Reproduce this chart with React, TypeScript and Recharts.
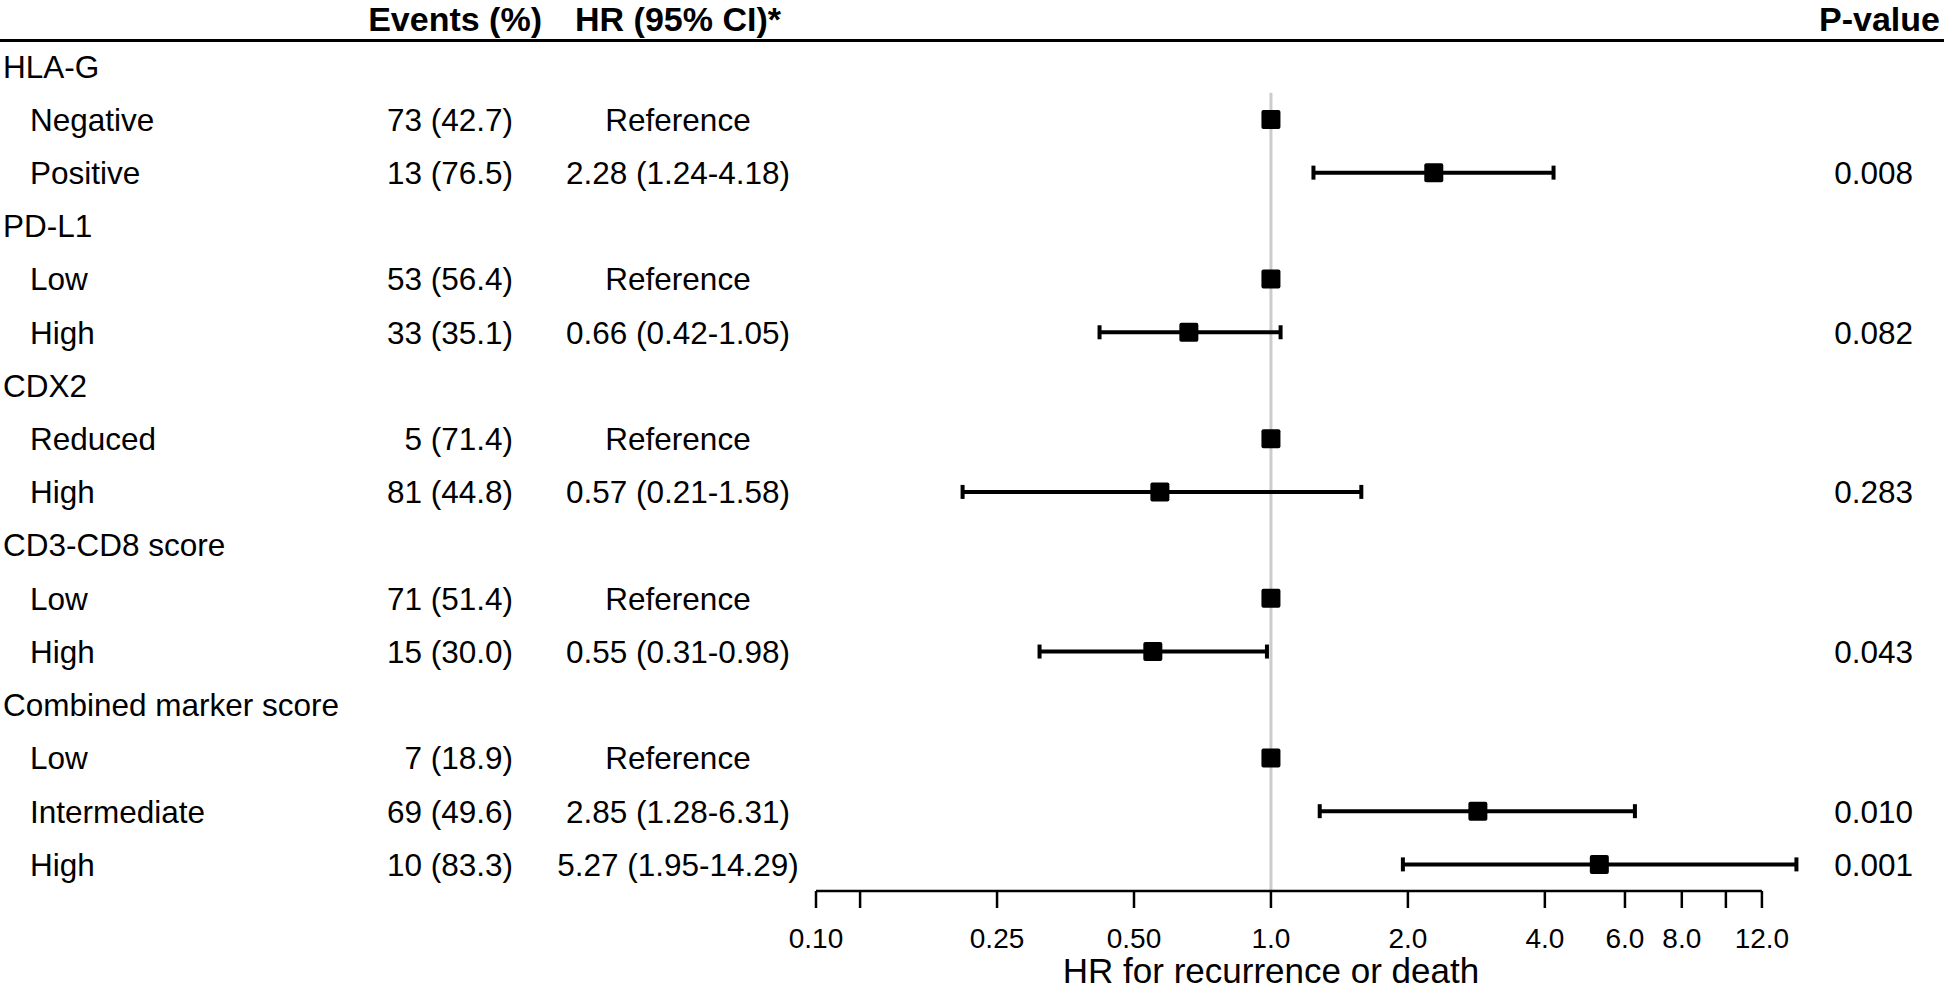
import {
  ScatterChart,
  Scatter,
  XAxis,
  YAxis,
  ErrorBar,
  ReferenceLine,
  Customized,
} from "recharts";

const rowLabels = [
  "HLA-G", "Negative", "Positive",
  "PD-L1", "Low", "High",
  "CDX2", "Reduced", "High",
  "CD3-CD8 score", "Low", "High",
  "Combined marker score", "Low", "Intermediate", "High",
];
const groupRows = [0, 3, 6, 9, 12];

const events = [
  "", "73 (42.7)", "13 (76.5)",
  "", "53 (56.4)", "33 (35.1)",
  "", "5 (71.4)", "81 (44.8)",
  "", "71 (51.4)", "15 (30.0)",
  "", "7 (18.9)", "69 (49.6)", "10 (83.3)",
];
const hrText = [
  "", "Reference", "2.28 (1.24-4.18)",
  "", "Reference", "0.66 (0.42-1.05)",
  "", "Reference", "0.57 (0.21-1.58)",
  "", "Reference", "0.55 (0.31-0.98)",
  "", "Reference", "2.85 (1.28-6.31)", "5.27 (1.95-14.29)",
];
const pValues = [
  "", "", "0.008",
  "", "", "0.082",
  "", "", "0.283",
  "", "", "0.043",
  "", "", "0.010", "0.001",
];

const hr = [null, 1, 2.28, null, 1, 0.66, null, 1, 0.57, null, 1, 0.55, null, 1, 2.85, 5.27];
const ciLow = [null, null, 1.24, null, null, 0.42, null, null, 0.21, null, null, 0.31, null, null, 1.28, 1.95];
const ciHigh = [null, null, 4.18, null, null, 1.05, null, null, 1.58, null, null, 0.98, null, null, 6.31, 14.29];

const axisTicks = [0.1, 0.125, 0.25, 0.5, 1, 2, 4, 6, 8, 10, 12];
const axisTickLabels = ["0.10", "", "0.25", "0.50", "1.0", "2.0", "4.0", "6.0", "8.0", "", "12.0"];

const rowIndex = rowLabels.map((_, i) => i);
const refPoints = rowIndex
  .filter((i) => hr[i] != null && ciLow[i] == null)
  .map((i) => ({ row: i, hr: hr[i] }));
const estPoints = rowIndex
  .filter((i) => hr[i] != null && ciLow[i] != null)
  .map((i) => ({
    row: i,
    hr: hr[i],
    ci: [(hr[i] as number) - (ciLow[i] as number), (ciHigh[i] as number) - (hr[i] as number)],
  }));

const FONT = "'Liberation Sans', Arial, Helvetica, sans-serif";
const ROW_FS = 31.5;

const RowTick = (props: any) => {
  const { y, payload } = props;
  const i = payload.value;
  const isGroup = groupRows.includes(i);
  return (
    <g fontFamily={FONT} fontSize={ROW_FS} fill="#000">
      <text x={isGroup ? 3 : 30} y={y} dy="0.36em" textAnchor="start">
        {rowLabels[i]}
      </text>
      <text x={513} y={y} dy="0.36em" textAnchor="end">
        {events[i]}
      </text>
      <text x={678} y={y} dy="0.36em" textAnchor="middle">
        {hrText[i]}
      </text>
      <text x={1913} y={y} dy="0.36em" textAnchor="end">
        {pValues[i]}
      </text>
    </g>
  );
};

const Square = (props: any) => {
  const { cx, cy } = props;
  return <rect x={cx - 9.5} y={cy - 9.5} width={19} height={19} rx={2} fill="#000" />;
};

const Header = () => (
  <g fontFamily={FONT} fill="#000">
    <text x={542} y={31} fontSize={34} fontWeight="bold" textAnchor="end">
      Events (%)
    </text>
    <text x={678} y={31} fontSize={34} fontWeight="bold" textAnchor="middle">
      HR (95% CI)*
    </text>
    <text x={1940} y={31} fontSize={34} fontWeight="bold" textAnchor="end">
      P-value
    </text>
    <line x1={0} x2={1944} y1={40.5} y2={40.5} stroke="#000" strokeWidth={3} />
    <text x={1271} y={983} fontSize={35} textAnchor="middle">
      HR for recurrence or death
    </text>
  </g>
);

export default function App() {
  return (
    <div style={{ position: "absolute", left: 0, top: 0, width: 1944, height: 989, background: "#fff" }}>
      <ScatterChart
        width={1944}
        height={989}
        margin={{ top: 13, right: 138, bottom: 2, left: 0 }}
      >
        <XAxis
          type="number"
          dataKey="hr"
          scale="log"
          domain={[0.1, 15]}
          ticks={axisTicks}
          interval={0}
          tickFormatter={(v: number) => axisTickLabels[axisTicks.indexOf(v)] ?? ""}
          axisLine={false}
          tickLine={{ stroke: "#000", strokeWidth: 2.5 }}
          tickSize={17}
          tickMargin={20}
          height={96}
          tick={{ fontSize: 28, fill: "#000", fontFamily: FONT }}
        />
        <YAxis
          type="number"
          dataKey="row"
          domain={[-1, 15.5]}
          reversed
          ticks={rowIndex}
          interval={0}
          width={816}
          axisLine={false}
          tickLine={false}
          tick={<RowTick />}
        />
        <ReferenceLine
          segment={[{ x: 1, y: 0.5 }, { x: 1, y: 15.5 }]}
          stroke="#cccccc"
          strokeWidth={3}
        />
        <ReferenceLine
          segment={[{ x: 0.1, y: 15.5 }, { x: 12, y: 15.5 }]}
          stroke="#000"
          strokeWidth={2.5}
        />
        <Scatter data={refPoints} shape={<Square />} isAnimationActive={false} />
        <Scatter data={estPoints} shape={<Square />} isAnimationActive={false}>
          <ErrorBar dataKey="ci" direction="x" width={7} stroke="#000" strokeWidth={4} />
        </Scatter>
        <Customized component={Header} />
      </ScatterChart>
    </div>
  );
}
